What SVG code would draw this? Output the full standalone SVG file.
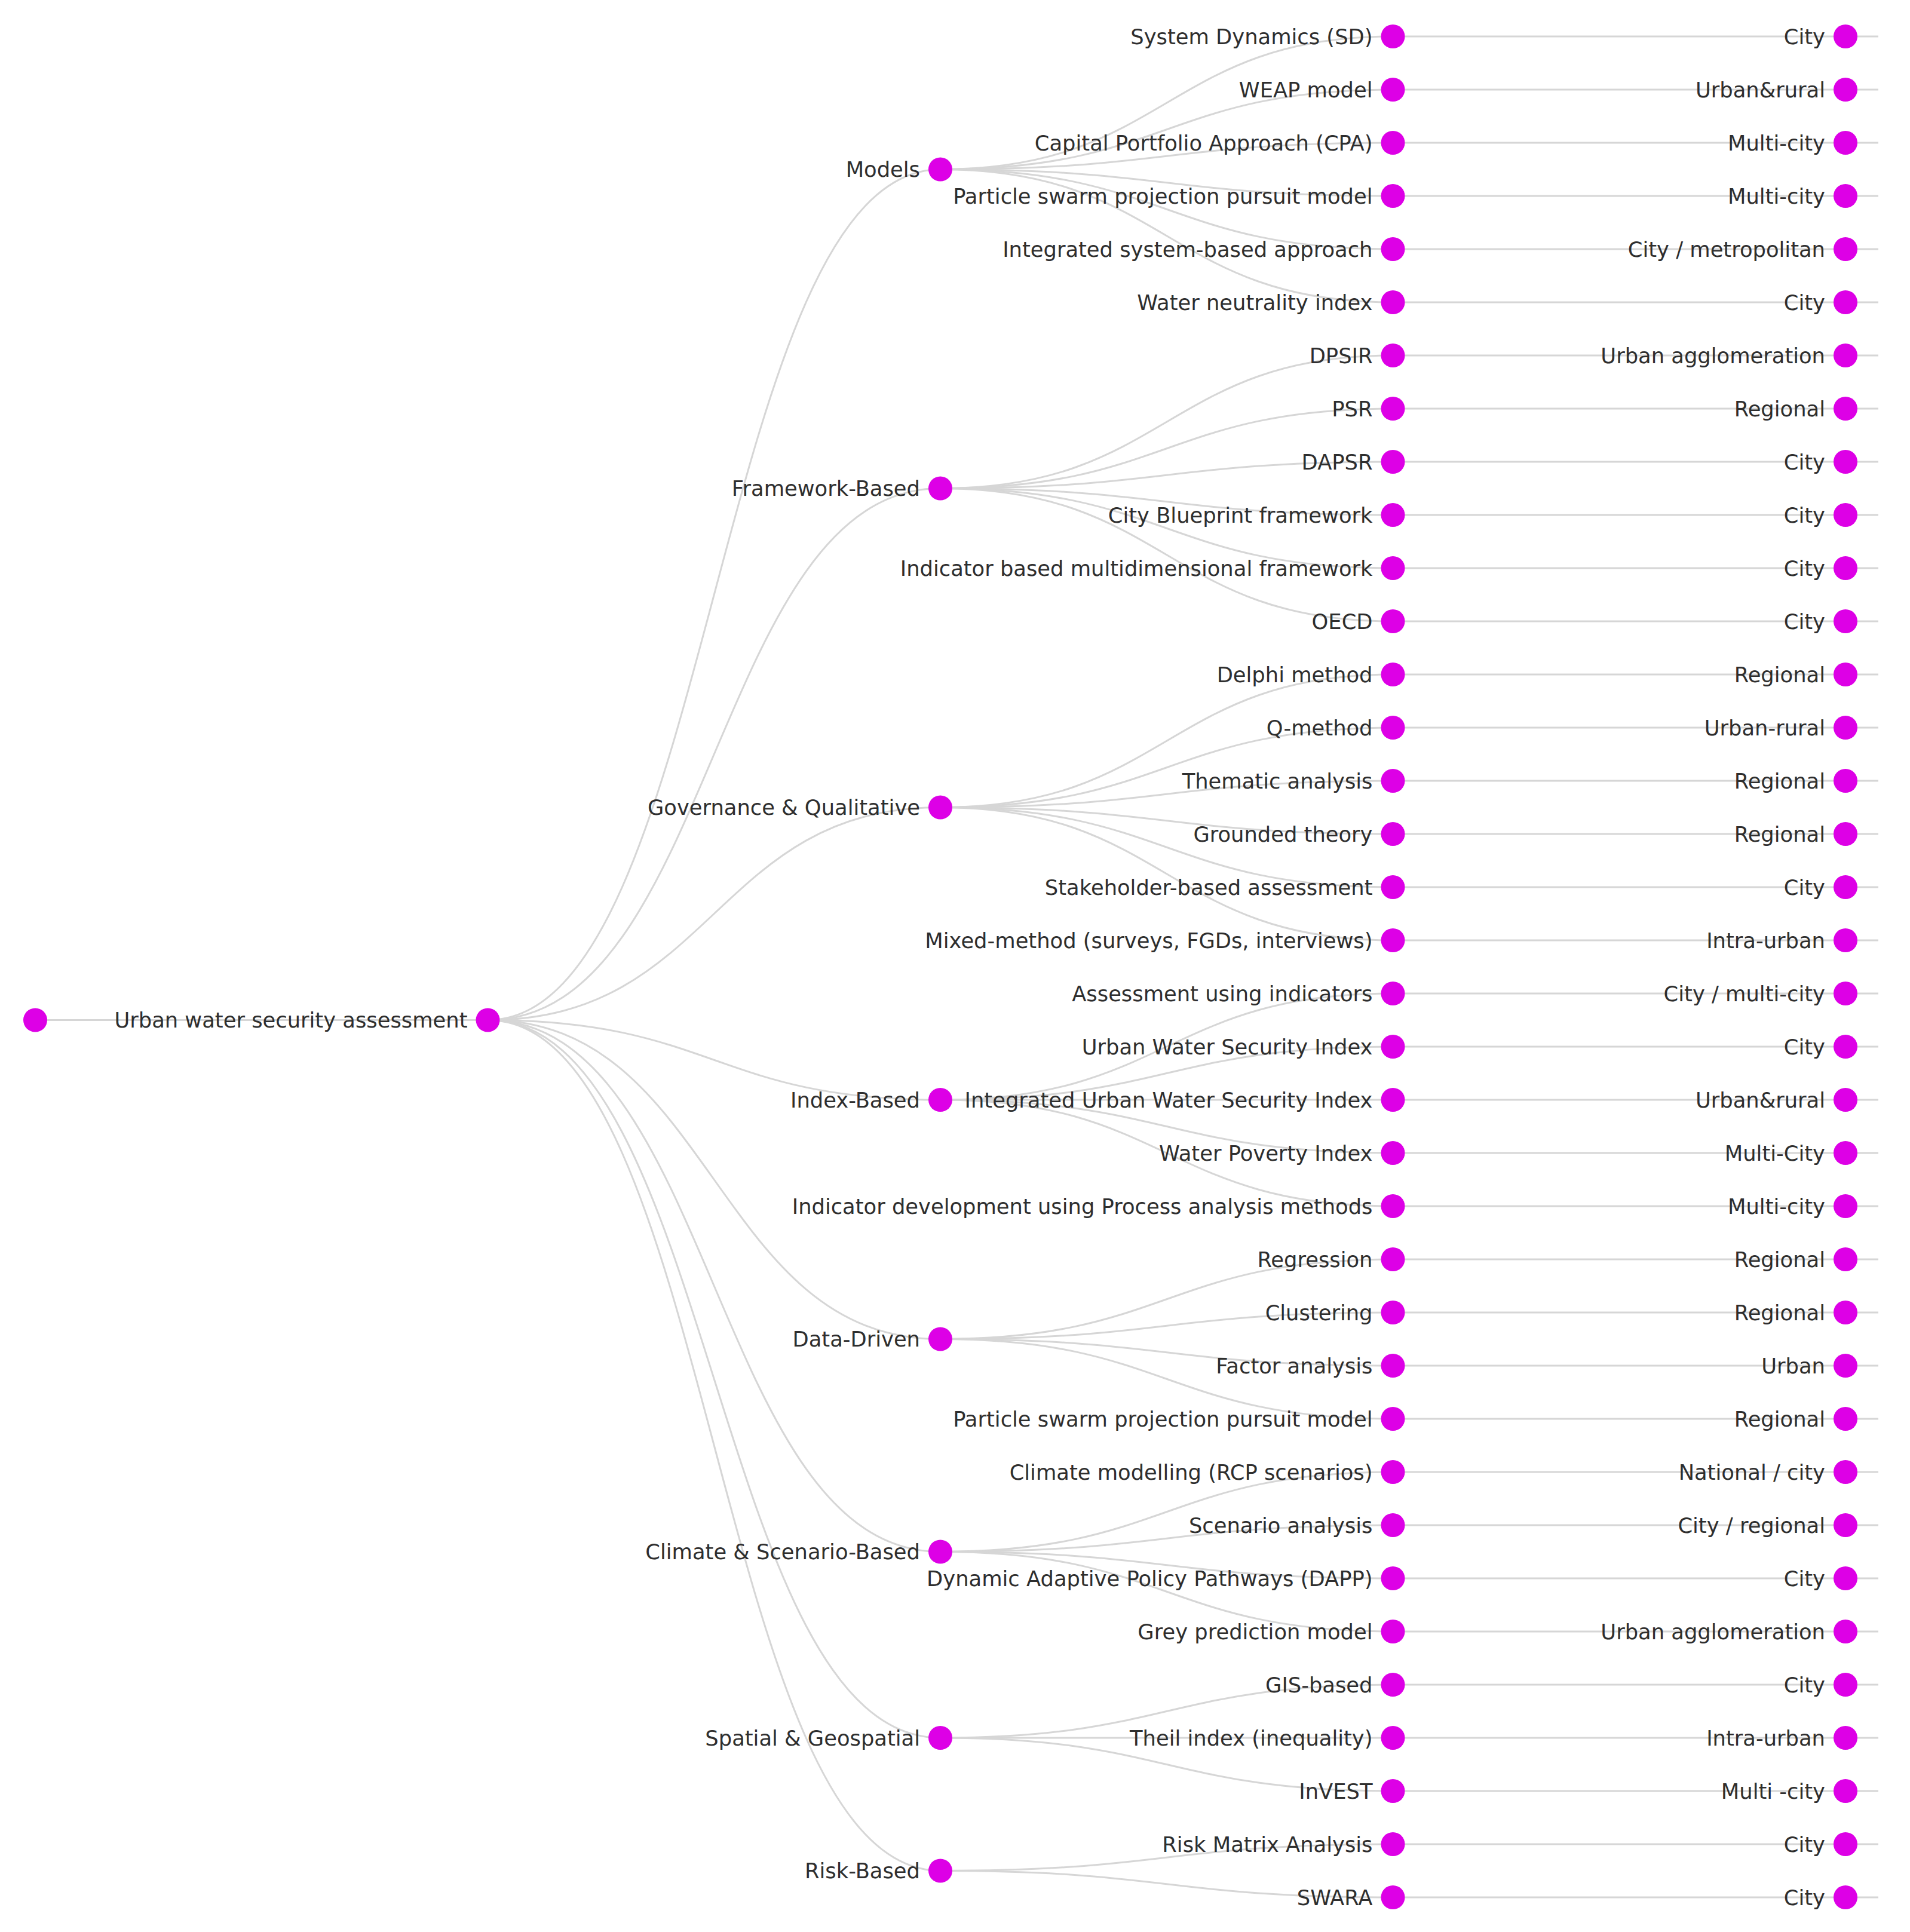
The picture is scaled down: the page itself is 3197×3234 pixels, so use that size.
<svg xmlns="http://www.w3.org/2000/svg" width="3197" height="3234" viewBox="0 0 3197 3234">
<style>
.link{fill:none;stroke:#d6d6d6;stroke-width:3}
.node{fill:#dd00e6}
.lbl{font-family:"DejaVu Sans",Verdana,sans-serif;font-size:35.3px;fill:#2e2e2e;text-anchor:end}
</style>
<rect width="3197" height="3234" fill="#ffffff"/>
<g id="connectors">
<path class="link" d="M59 1707.5H816.5"/>
<path class="link" d="M816.5 1707.5C1195.25 1707.5 1195.25 283.5 1574 283.5"/>
<path class="link" d="M816.5 1707.5C1195.25 1707.5 1195.25 817.5 1574 817.5"/>
<path class="link" d="M816.5 1707.5C1195.25 1707.5 1195.25 1351.5 1574 1351.5"/>
<path class="link" d="M816.5 1707.5C1195.25 1707.5 1195.25 1841 1574 1841"/>
<path class="link" d="M816.5 1707.5C1195.25 1707.5 1195.25 2241.5 1574 2241.5"/>
<path class="link" d="M816.5 1707.5C1195.25 1707.5 1195.25 2597.5 1574 2597.5"/>
<path class="link" d="M816.5 1707.5C1195.25 1707.5 1195.25 2909 1574 2909"/>
<path class="link" d="M816.5 1707.5C1195.25 1707.5 1195.25 3131.5 1574 3131.5"/>
<path class="link" d="M1574 283.5C1952.75 283.5 1952.75 61 2331.5 61"/>
<path class="link" d="M1574 283.5C1952.75 283.5 1952.75 150 2331.5 150"/>
<path class="link" d="M1574 283.5C1952.75 283.5 1952.75 239 2331.5 239"/>
<path class="link" d="M1574 283.5C1952.75 283.5 1952.75 328 2331.5 328"/>
<path class="link" d="M1574 283.5C1952.75 283.5 1952.75 417 2331.5 417"/>
<path class="link" d="M1574 283.5C1952.75 283.5 1952.75 506 2331.5 506"/>
<path class="link" d="M1574 817.5C1952.75 817.5 1952.75 595 2331.5 595"/>
<path class="link" d="M1574 817.5C1952.75 817.5 1952.75 684 2331.5 684"/>
<path class="link" d="M1574 817.5C1952.75 817.5 1952.75 773 2331.5 773"/>
<path class="link" d="M1574 817.5C1952.75 817.5 1952.75 862 2331.5 862"/>
<path class="link" d="M1574 817.5C1952.75 817.5 1952.75 951 2331.5 951"/>
<path class="link" d="M1574 817.5C1952.75 817.5 1952.75 1040 2331.5 1040"/>
<path class="link" d="M1574 1351.5C1952.75 1351.5 1952.75 1129 2331.5 1129"/>
<path class="link" d="M1574 1351.5C1952.75 1351.5 1952.75 1218 2331.5 1218"/>
<path class="link" d="M1574 1351.5C1952.75 1351.5 1952.75 1307 2331.5 1307"/>
<path class="link" d="M1574 1351.5C1952.75 1351.5 1952.75 1396 2331.5 1396"/>
<path class="link" d="M1574 1351.5C1952.75 1351.5 1952.75 1485 2331.5 1485"/>
<path class="link" d="M1574 1351.5C1952.75 1351.5 1952.75 1574 2331.5 1574"/>
<path class="link" d="M1574 1841C1952.75 1841 1952.75 1663 2331.5 1663"/>
<path class="link" d="M1574 1841C1952.75 1841 1952.75 1752 2331.5 1752"/>
<path class="link" d="M1574 1841C1952.75 1841 1952.75 1841 2331.5 1841"/>
<path class="link" d="M1574 1841C1952.75 1841 1952.75 1930 2331.5 1930"/>
<path class="link" d="M1574 1841C1952.75 1841 1952.75 2019 2331.5 2019"/>
<path class="link" d="M1574 2241.5C1952.75 2241.5 1952.75 2108 2331.5 2108"/>
<path class="link" d="M1574 2241.5C1952.75 2241.5 1952.75 2197 2331.5 2197"/>
<path class="link" d="M1574 2241.5C1952.75 2241.5 1952.75 2286 2331.5 2286"/>
<path class="link" d="M1574 2241.5C1952.75 2241.5 1952.75 2375 2331.5 2375"/>
<path class="link" d="M1574 2597.5C1952.75 2597.5 1952.75 2464 2331.5 2464"/>
<path class="link" d="M1574 2597.5C1952.75 2597.5 1952.75 2553 2331.5 2553"/>
<path class="link" d="M1574 2597.5C1952.75 2597.5 1952.75 2642 2331.5 2642"/>
<path class="link" d="M1574 2597.5C1952.75 2597.5 1952.75 2731 2331.5 2731"/>
<path class="link" d="M1574 2909C1952.75 2909 1952.75 2820 2331.5 2820"/>
<path class="link" d="M1574 2909C1952.75 2909 1952.75 2909 2331.5 2909"/>
<path class="link" d="M1574 2909C1952.75 2909 1952.75 2998 2331.5 2998"/>
<path class="link" d="M1574 3131.5C1952.75 3131.5 1952.75 3087 2331.5 3087"/>
<path class="link" d="M1574 3131.5C1952.75 3131.5 1952.75 3176 2331.5 3176"/>
<path class="link" d="M2331.5 61H3144M2331.5 150H3144M2331.5 239H3144M2331.5 328H3144M2331.5 417H3144M2331.5 506H3144M2331.5 595H3144M2331.5 684H3144M2331.5 773H3144M2331.5 862H3144M2331.5 951H3144M2331.5 1040H3144M2331.5 1129H3144M2331.5 1218H3144M2331.5 1307H3144M2331.5 1396H3144M2331.5 1485H3144M2331.5 1574H3144M2331.5 1663H3144M2331.5 1752H3144M2331.5 1841H3144M2331.5 1930H3144M2331.5 2019H3144M2331.5 2108H3144M2331.5 2197H3144M2331.5 2286H3144M2331.5 2375H3144M2331.5 2464H3144M2331.5 2553H3144M2331.5 2642H3144M2331.5 2731H3144M2331.5 2820H3144M2331.5 2909H3144M2331.5 2998H3144M2331.5 3087H3144M2331.5 3176H3144"/>
</g>
<g id="nodes">
<g id="n-root"><circle class="node" cx="59" cy="1707.5" r="20"/></g>
<g id="n-uwsa"><circle class="node" cx="816.5" cy="1707.5" r="20"/><text class="lbl" x="782.5" y="1720">Urban water security assessment</text></g>
<g id="n-models"><circle class="node" cx="1574" cy="283.5" r="20"/><text class="lbl" x="1540" y="296">Models</text></g>
<g id="n-framework"><circle class="node" cx="1574" cy="817.5" r="20"/><text class="lbl" x="1540" y="830">Framework-Based</text></g>
<g id="n-governance"><circle class="node" cx="1574" cy="1351.5" r="20"/><text class="lbl" x="1540" y="1364">Governance &amp; Qualitative</text></g>
<g id="n-index"><circle class="node" cx="1574" cy="1841" r="20"/><text class="lbl" x="1540" y="1853.5">Index-Based</text></g>
<g id="n-data"><circle class="node" cx="1574" cy="2241.5" r="20"/><text class="lbl" x="1540" y="2254">Data-Driven</text></g>
<g id="n-climate"><circle class="node" cx="1574" cy="2597.5" r="20"/><text class="lbl" x="1540" y="2610">Climate &amp; Scenario-Based</text></g>
<g id="n-spatial"><circle class="node" cx="1574" cy="2909" r="20"/><text class="lbl" x="1540" y="2921.5">Spatial &amp; Geospatial</text></g>
<g id="n-risk"><circle class="node" cx="1574" cy="3131.5" r="20"/><text class="lbl" x="1540" y="3144">Risk-Based</text></g>
<g id="m0"><circle class="node" cx="2331.5" cy="61" r="20"/><text class="lbl" x="2297.5" y="73.5">System Dynamics (SD)</text></g>
<g id="m1"><circle class="node" cx="2331.5" cy="150" r="20"/><text class="lbl" x="2297.5" y="162.5">WEAP model</text></g>
<g id="m2"><circle class="node" cx="2331.5" cy="239" r="20"/><text class="lbl" x="2297.5" y="251.5">Capital Portfolio Approach (CPA)</text></g>
<g id="m3"><circle class="node" cx="2331.5" cy="328" r="20"/><text class="lbl" x="2297.5" y="340.5">Particle swarm projection pursuit model</text></g>
<g id="m4"><circle class="node" cx="2331.5" cy="417" r="20"/><text class="lbl" x="2297.5" y="429.5">Integrated system-based approach</text></g>
<g id="m5"><circle class="node" cx="2331.5" cy="506" r="20"/><text class="lbl" x="2297.5" y="518.5">Water neutrality index</text></g>
<g id="m6"><circle class="node" cx="2331.5" cy="595" r="20"/><text class="lbl" x="2297.5" y="607.5">DPSIR</text></g>
<g id="m7"><circle class="node" cx="2331.5" cy="684" r="20"/><text class="lbl" x="2297.5" y="696.5">PSR</text></g>
<g id="m8"><circle class="node" cx="2331.5" cy="773" r="20"/><text class="lbl" x="2297.5" y="785.5">DAPSR</text></g>
<g id="m9"><circle class="node" cx="2331.5" cy="862" r="20"/><text class="lbl" x="2297.5" y="874.5">City Blueprint framework</text></g>
<g id="m10"><circle class="node" cx="2331.5" cy="951" r="20"/><text class="lbl" x="2297.5" y="963.5">Indicator based multidimensional framework</text></g>
<g id="m11"><circle class="node" cx="2331.5" cy="1040" r="20"/><text class="lbl" x="2297.5" y="1052.5">OECD</text></g>
<g id="m12"><circle class="node" cx="2331.5" cy="1129" r="20"/><text class="lbl" x="2297.5" y="1141.5">Delphi method</text></g>
<g id="m13"><circle class="node" cx="2331.5" cy="1218" r="20"/><text class="lbl" x="2297.5" y="1230.5">Q-method</text></g>
<g id="m14"><circle class="node" cx="2331.5" cy="1307" r="20"/><text class="lbl" x="2297.5" y="1319.5">Thematic analysis</text></g>
<g id="m15"><circle class="node" cx="2331.5" cy="1396" r="20"/><text class="lbl" x="2297.5" y="1408.5">Grounded theory</text></g>
<g id="m16"><circle class="node" cx="2331.5" cy="1485" r="20"/><text class="lbl" x="2297.5" y="1497.5">Stakeholder-based assessment</text></g>
<g id="m17"><circle class="node" cx="2331.5" cy="1574" r="20"/><text class="lbl" x="2297.5" y="1586.5">Mixed-method (surveys, FGDs, interviews)</text></g>
<g id="m18"><circle class="node" cx="2331.5" cy="1663" r="20"/><text class="lbl" x="2297.5" y="1675.5">Assessment using indicators</text></g>
<g id="m19"><circle class="node" cx="2331.5" cy="1752" r="20"/><text class="lbl" x="2297.5" y="1764.5">Urban Water Security Index</text></g>
<g id="m20"><circle class="node" cx="2331.5" cy="1841" r="20"/><text class="lbl" x="2297.5" y="1853.5">Integrated Urban Water Security Index</text></g>
<g id="m21"><circle class="node" cx="2331.5" cy="1930" r="20"/><text class="lbl" x="2297.5" y="1942.5">Water Poverty Index</text></g>
<g id="m22"><circle class="node" cx="2331.5" cy="2019" r="20"/><text class="lbl" x="2297.5" y="2031.5">Indicator development using Process analysis methods</text></g>
<g id="m23"><circle class="node" cx="2331.5" cy="2108" r="20"/><text class="lbl" x="2297.5" y="2120.5">Regression</text></g>
<g id="m24"><circle class="node" cx="2331.5" cy="2197" r="20"/><text class="lbl" x="2297.5" y="2209.5">Clustering</text></g>
<g id="m25"><circle class="node" cx="2331.5" cy="2286" r="20"/><text class="lbl" x="2297.5" y="2298.5">Factor analysis</text></g>
<g id="m26"><circle class="node" cx="2331.5" cy="2375" r="20"/><text class="lbl" x="2297.5" y="2387.5">Particle swarm projection pursuit model</text></g>
<g id="m27"><circle class="node" cx="2331.5" cy="2464" r="20"/><text class="lbl" x="2297.5" y="2476.5">Climate modelling (RCP scenarios)</text></g>
<g id="m28"><circle class="node" cx="2331.5" cy="2553" r="20"/><text class="lbl" x="2297.5" y="2565.5">Scenario analysis</text></g>
<g id="m29"><circle class="node" cx="2331.5" cy="2642" r="20"/><text class="lbl" x="2297.5" y="2654.5">Dynamic Adaptive Policy Pathways (DAPP)</text></g>
<g id="m30"><circle class="node" cx="2331.5" cy="2731" r="20"/><text class="lbl" x="2297.5" y="2743.5">Grey prediction model</text></g>
<g id="m31"><circle class="node" cx="2331.5" cy="2820" r="20"/><text class="lbl" x="2297.5" y="2832.5">GIS-based</text></g>
<g id="m32"><circle class="node" cx="2331.5" cy="2909" r="20"/><text class="lbl" x="2297.5" y="2921.5">Theil index (inequality)</text></g>
<g id="m33"><circle class="node" cx="2331.5" cy="2998" r="20"/><text class="lbl" x="2297.5" y="3010.5">InVEST</text></g>
<g id="m34"><circle class="node" cx="2331.5" cy="3087" r="20"/><text class="lbl" x="2297.5" y="3099.5">Risk Matrix Analysis</text></g>
<g id="m35"><circle class="node" cx="2331.5" cy="3176" r="20"/><text class="lbl" x="2297.5" y="3188.5">SWARA</text></g>
<g id="s0"><circle class="node" cx="3089" cy="61" r="20"/><text class="lbl" x="3055" y="73.5">City</text></g>
<g id="s1"><circle class="node" cx="3089" cy="150" r="20"/><text class="lbl" x="3055" y="162.5">Urban&amp;rural</text></g>
<g id="s2"><circle class="node" cx="3089" cy="239" r="20"/><text class="lbl" x="3055" y="251.5">Multi-city</text></g>
<g id="s3"><circle class="node" cx="3089" cy="328" r="20"/><text class="lbl" x="3055" y="340.5">Multi-city</text></g>
<g id="s4"><circle class="node" cx="3089" cy="417" r="20"/><text class="lbl" x="3055" y="429.5">City / metropolitan</text></g>
<g id="s5"><circle class="node" cx="3089" cy="506" r="20"/><text class="lbl" x="3055" y="518.5">City</text></g>
<g id="s6"><circle class="node" cx="3089" cy="595" r="20"/><text class="lbl" x="3055" y="607.5">Urban agglomeration</text></g>
<g id="s7"><circle class="node" cx="3089" cy="684" r="20"/><text class="lbl" x="3055" y="696.5">Regional</text></g>
<g id="s8"><circle class="node" cx="3089" cy="773" r="20"/><text class="lbl" x="3055" y="785.5">City</text></g>
<g id="s9"><circle class="node" cx="3089" cy="862" r="20"/><text class="lbl" x="3055" y="874.5">City</text></g>
<g id="s10"><circle class="node" cx="3089" cy="951" r="20"/><text class="lbl" x="3055" y="963.5">City</text></g>
<g id="s11"><circle class="node" cx="3089" cy="1040" r="20"/><text class="lbl" x="3055" y="1052.5">City</text></g>
<g id="s12"><circle class="node" cx="3089" cy="1129" r="20"/><text class="lbl" x="3055" y="1141.5">Regional</text></g>
<g id="s13"><circle class="node" cx="3089" cy="1218" r="20"/><text class="lbl" x="3055" y="1230.5">Urban-rural</text></g>
<g id="s14"><circle class="node" cx="3089" cy="1307" r="20"/><text class="lbl" x="3055" y="1319.5">Regional</text></g>
<g id="s15"><circle class="node" cx="3089" cy="1396" r="20"/><text class="lbl" x="3055" y="1408.5">Regional</text></g>
<g id="s16"><circle class="node" cx="3089" cy="1485" r="20"/><text class="lbl" x="3055" y="1497.5">City</text></g>
<g id="s17"><circle class="node" cx="3089" cy="1574" r="20"/><text class="lbl" x="3055" y="1586.5">Intra-urban</text></g>
<g id="s18"><circle class="node" cx="3089" cy="1663" r="20"/><text class="lbl" x="3055" y="1675.5">City / multi-city</text></g>
<g id="s19"><circle class="node" cx="3089" cy="1752" r="20"/><text class="lbl" x="3055" y="1764.5">City</text></g>
<g id="s20"><circle class="node" cx="3089" cy="1841" r="20"/><text class="lbl" x="3055" y="1853.5">Urban&amp;rural</text></g>
<g id="s21"><circle class="node" cx="3089" cy="1930" r="20"/><text class="lbl" x="3055" y="1942.5">Multi-City</text></g>
<g id="s22"><circle class="node" cx="3089" cy="2019" r="20"/><text class="lbl" x="3055" y="2031.5">Multi-city</text></g>
<g id="s23"><circle class="node" cx="3089" cy="2108" r="20"/><text class="lbl" x="3055" y="2120.5">Regional</text></g>
<g id="s24"><circle class="node" cx="3089" cy="2197" r="20"/><text class="lbl" x="3055" y="2209.5">Regional</text></g>
<g id="s25"><circle class="node" cx="3089" cy="2286" r="20"/><text class="lbl" x="3055" y="2298.5">Urban</text></g>
<g id="s26"><circle class="node" cx="3089" cy="2375" r="20"/><text class="lbl" x="3055" y="2387.5">Regional</text></g>
<g id="s27"><circle class="node" cx="3089" cy="2464" r="20"/><text class="lbl" x="3055" y="2476.5">National / city</text></g>
<g id="s28"><circle class="node" cx="3089" cy="2553" r="20"/><text class="lbl" x="3055" y="2565.5">City / regional</text></g>
<g id="s29"><circle class="node" cx="3089" cy="2642" r="20"/><text class="lbl" x="3055" y="2654.5">City</text></g>
<g id="s30"><circle class="node" cx="3089" cy="2731" r="20"/><text class="lbl" x="3055" y="2743.5">Urban agglomeration</text></g>
<g id="s31"><circle class="node" cx="3089" cy="2820" r="20"/><text class="lbl" x="3055" y="2832.5">City</text></g>
<g id="s32"><circle class="node" cx="3089" cy="2909" r="20"/><text class="lbl" x="3055" y="2921.5">Intra-urban</text></g>
<g id="s33"><circle class="node" cx="3089" cy="2998" r="20"/><text class="lbl" x="3055" y="3010.5">Multi -city</text></g>
<g id="s34"><circle class="node" cx="3089" cy="3087" r="20"/><text class="lbl" x="3055" y="3099.5">City</text></g>
<g id="s35"><circle class="node" cx="3089" cy="3176" r="20"/><text class="lbl" x="3055" y="3188.5">City</text></g>
</g>
</svg>
